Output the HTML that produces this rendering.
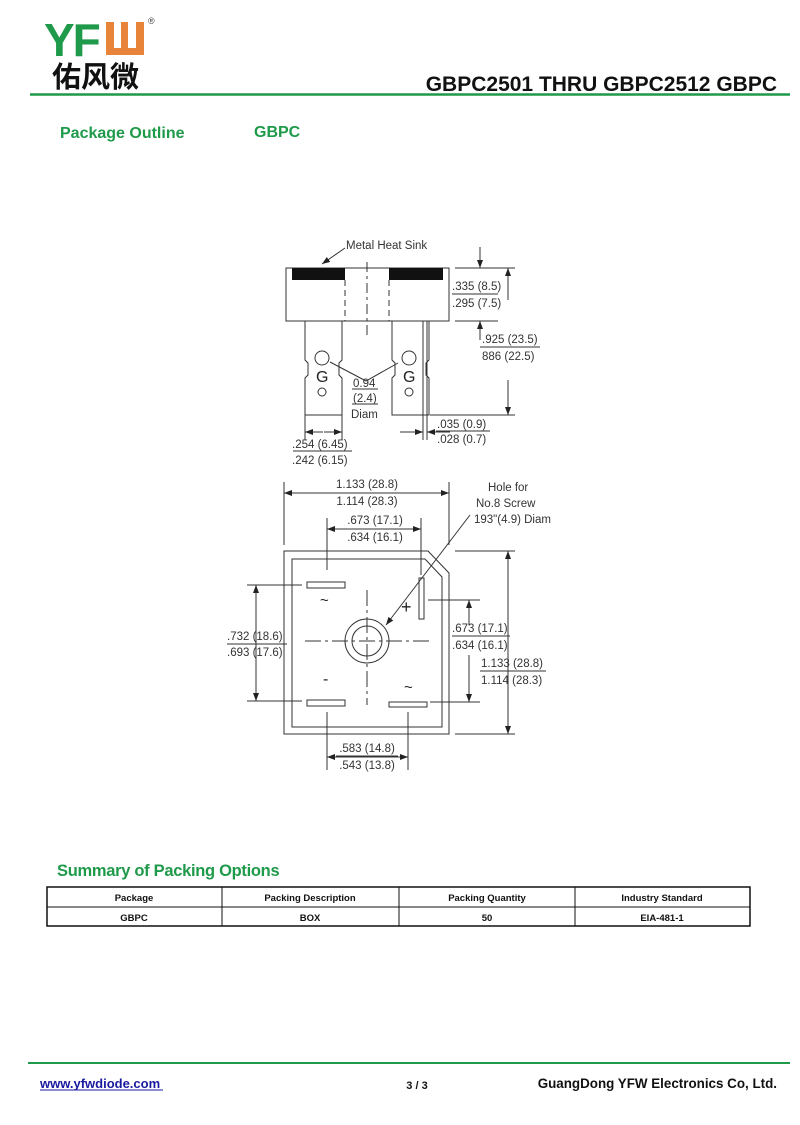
<!DOCTYPE html>
<html><head><meta charset="utf-8"><style>
html,body{margin:0;padding:0;background:#fff;}
svg{display:block;}
text{font-family:"Liberation Sans","Noto Sans CJK SC",sans-serif;}
.d{font-size:11.5px;fill:#333;}
</style></head><body>
<svg width="800" height="1125" viewBox="0 0 800 1125" xmlns="http://www.w3.org/2000/svg">
<defs>
<marker id="a" markerWidth="8" markerHeight="6" refX="8" refY="3" orient="auto" markerUnits="userSpaceOnUse"><path d="M0,0 L8,3 L0,6 z" fill="#222"/></marker>
</defs>
<!-- header -->
<text x="44" y="56" font-size="46" font-weight="bold" fill="#1f9a4a" letter-spacing="-2">YF</text>
<path d="M106,22 h38 v33 h-38 z" fill="#e8843a"/>
<rect x="114" y="22" width="7" height="26" fill="#fff"/>
<rect x="128" y="22" width="8" height="26" fill="#fff"/>
<text x="148" y="24" font-size="9" fill="#444">®</text>
<text x="52" y="87" font-size="29" font-weight="bold" fill="#111">佑风微</text>
<line x1="30" y1="94.5" x2="790" y2="94.5" stroke="#1f9a4a" stroke-width="2.5"/>
<text x="777" y="91" font-size="21" font-weight="bold" fill="#111" text-anchor="end">GBPC2501 THRU GBPC2512  GBPC</text>
<text x="60" y="138" font-size="16" font-weight="bold" fill="#1f9a4a">Package Outline</text>
<text x="254" y="137" font-size="16" font-weight="bold" fill="#1f9a4a">GBPC</text>

<g stroke="#333" stroke-width="1" fill="none">
<rect x="286" y="268" width="163" height="53"/>
<rect x="292" y="268" width="53" height="12" fill="#111" stroke="none"/>
<rect x="389" y="268" width="54" height="12" fill="#111" stroke="none"/>
<line x1="345" y1="280" x2="345" y2="321" stroke-dasharray="6,4"/>
<line x1="389" y1="280" x2="389" y2="321" stroke-dasharray="6,4"/>
<line x1="367" y1="262" x2="367" y2="336" stroke-dasharray="10,4,3,4"/>
<path d="M305,321 V360 l3,3 v12 l-3,3 V415 H342 V378 l-3,-3 v-12 l3,-3 V321"/>
<path d="M392,321 V360 l3,3 v12 l-3,3 V415 H429 V378 l-3,-3 v-12 l3,-3 V321"/>
<line x1="423" y1="321" x2="423" y2="440"/>
<line x1="427" y1="321" x2="427" y2="440"/>
<circle cx="322" cy="358" r="7"/><circle cx="322" cy="392" r="4"/>
<circle cx="409" cy="358" r="7"/><circle cx="409" cy="392" r="4"/>
<polyline points="330,362 366,381 398,363"/>
<line x1="345" y1="248" x2="322" y2="264" marker-end="url(#a)"/>
<line x1="455" y1="268" x2="515" y2="268"/>
<line x1="455" y1="321" x2="498" y2="321"/>
<line x1="480" y1="247" x2="480" y2="268" marker-end="url(#a)"/>
<line x1="480" y1="340" x2="480" y2="321" marker-end="url(#a)"/>
<line x1="452" y1="294" x2="498" y2="294"/>
<line x1="508" y1="300" x2="508" y2="268" marker-end="url(#a)"/>
<line x1="508" y1="380" x2="508" y2="415" marker-end="url(#a)"/>
<line x1="430" y1="415" x2="515" y2="415"/>
<line x1="480" y1="347" x2="540" y2="347"/>
<line x1="352" y1="389" x2="378" y2="389"/>
<line x1="352" y1="404" x2="378" y2="404"/>
<line x1="305" y1="415" x2="305" y2="440"/>
<line x1="342" y1="415" x2="342" y2="440"/>
<line x1="323" y1="432" x2="305" y2="432" marker-end="url(#a)"/>
<line x1="324" y1="432" x2="342" y2="432" marker-end="url(#a)"/>
<line x1="293" y1="451" x2="352" y2="451"/>
<line x1="400" y1="432" x2="423" y2="432" marker-end="url(#a)"/>
<line x1="450" y1="432" x2="427" y2="432" marker-end="url(#a)"/>
<line x1="436" y1="431" x2="490" y2="431"/>

<path d="M284,551 H428 L449,573 V734 H284 Z"/>
<path d="M292,559 H425 L442,577 V727 H292 Z"/>
<rect x="307" y="582" width="38" height="6"/>
<rect x="307" y="700" width="38" height="6"/>
<rect x="389" y="702" width="38" height="5"/>
<rect x="419" y="578" width="5" height="41"/>
<circle cx="367" cy="641" r="22"/><circle cx="367" cy="641" r="15"/>
<line x1="367" y1="590" x2="367" y2="705" stroke-dasharray="16,4,3,4"/>
<line x1="305" y1="641" x2="432" y2="641" stroke-dasharray="16,4,3,4"/>
<line x1="284" y1="482" x2="284" y2="545"/>
<line x1="449" y1="482" x2="449" y2="545"/>
<line x1="367" y1="493" x2="284" y2="493" marker-end="url(#a)"/>
<line x1="367" y1="493" x2="449" y2="493" marker-end="url(#a)"/>
<line x1="327" y1="518" x2="327" y2="570"/>
<line x1="421" y1="518" x2="421" y2="575"/>
<line x1="374" y1="529" x2="327" y2="529" marker-end="url(#a)"/>
<line x1="374" y1="529" x2="421" y2="529" marker-end="url(#a)"/>
<line x1="470" y1="515" x2="386" y2="625" marker-end="url(#a)"/>
<line x1="247" y1="585" x2="302" y2="585"/>
<line x1="247" y1="701" x2="302" y2="701"/>
<line x1="256" y1="640" x2="256" y2="585" marker-end="url(#a)"/>
<line x1="256" y1="640" x2="256" y2="701" marker-end="url(#a)"/>
<line x1="227" y1="644" x2="287" y2="644"/>
<line x1="428" y1="600" x2="480" y2="600"/>
<line x1="430" y1="702" x2="480" y2="702"/>
<line x1="469" y1="625" x2="469" y2="600" marker-end="url(#a)"/>
<line x1="469" y1="655" x2="469" y2="702" marker-end="url(#a)"/>
<line x1="452" y1="636" x2="510" y2="636"/>
<line x1="455" y1="551" x2="515" y2="551"/>
<line x1="455" y1="734" x2="515" y2="734"/>
<line x1="508" y1="640" x2="508" y2="551" marker-end="url(#a)"/>
<line x1="508" y1="640" x2="508" y2="734" marker-end="url(#a)"/>
<line x1="480" y1="671" x2="546" y2="671"/>
<line x1="327" y1="712" x2="327" y2="770"/>
<line x1="408" y1="712" x2="408" y2="770"/>
<line x1="367" y1="757" x2="327" y2="757" marker-end="url(#a)"/>
<line x1="367" y1="757" x2="408" y2="757" marker-end="url(#a)"/>
<line x1="336" y1="756" x2="398" y2="756"/>
</g>
<g class="d">
<text x="346" y="249">Metal Heat Sink</text>
<text x="452" y="290">.335 (8.5)</text>
<text x="452" y="307">.295 (7.5)</text>
<text x="482" y="343">.925 (23.5)</text>
<text x="482" y="360">886 (22.5)</text>
<text x="353" y="387">0.94</text>
<text x="353" y="402">(2.4)</text>
<text x="351" y="418">Diam</text>
<text x="292" y="448">.254 (6.45)</text>
<text x="292" y="464">.242 (6.15)</text>
<text x="437" y="428">.035 (0.9)</text>
<text x="437" y="443">.028 (0.7)</text>
<text x="367" y="488" text-anchor="middle">1.133 (28.8)</text>
<text x="367" y="505" text-anchor="middle">1.114 (28.3)</text>
<text x="375" y="524" text-anchor="middle">.673 (17.1)</text>
<text x="375" y="541" text-anchor="middle">.634 (16.1)</text>
<text x="488" y="491">Hole for</text>
<text x="476" y="507">No.8 Screw</text>
<text x="474" y="523">193"(4.9) Diam</text>
<text x="227" y="640">.732 (18.6)</text>
<text x="227" y="656">.693 (17.6)</text>
<text x="452" y="632">.673 (17.1)</text>
<text x="452" y="649">.634 (16.1)</text>
<text x="481" y="667">1.133 (28.8)</text>
<text x="481" y="684">1.114 (28.3)</text>
<text x="367" y="752" text-anchor="middle">.583 (14.8)</text>
<text x="367" y="769" text-anchor="middle">.543 (13.8)</text>
</g>
<g font-size="16" fill="#222">
<text x="316" y="382">G</text><text x="403" y="382">G</text>
<text x="320" y="605" font-size="15">~</text>
<text x="401" y="613" font-size="18">+</text>
<text x="323" y="684" font-size="16">-</text>
<text x="404" y="692" font-size="15">~</text>
</g>

<text x="57" y="876" font-size="16.5" font-weight="bold" fill="#1f9a4a" letter-spacing="-0.3">Summary of Packing Options</text>
<g stroke="#111" fill="none">
<rect x="47" y="887" width="703" height="39" stroke-width="1.5"/>
<line x1="47" y1="907" x2="750" y2="907"/>
<line x1="222" y1="887" x2="222" y2="926"/>
<line x1="399" y1="887" x2="399" y2="926"/>
<line x1="575" y1="887" x2="575" y2="926"/>
</g>
<g font-size="9.5" font-weight="bold" fill="#111" text-anchor="middle">
<text x="134" y="901">Package</text><text x="310" y="901">Packing Description</text>
<text x="487" y="901">Packing Quantity</text><text x="662" y="901">Industry Standard</text>
<text x="134" y="921">GBPC</text><text x="310" y="921">BOX</text>
<text x="487" y="921">50</text><text x="662" y="921">EIA-481-1</text>
</g>

<line x1="28" y1="1063" x2="790" y2="1063" stroke="#1f9a4a" stroke-width="2"/>
<text x="40" y="1088" font-size="13" font-weight="bold" fill="#1a1aa0">www.yfwdiode.com</text>
<line x1="40" y1="1090" x2="163" y2="1090" stroke="#1a1aa0" stroke-width="1"/>
<text x="417" y="1089" font-size="11" font-weight="bold" fill="#111" text-anchor="middle">3 / 3</text>
<text x="777" y="1088" font-size="13.4" font-weight="bold" fill="#111" text-anchor="end">GuangDong YFW Electronics Co, Ltd.</text>
</svg>
</body></html>
